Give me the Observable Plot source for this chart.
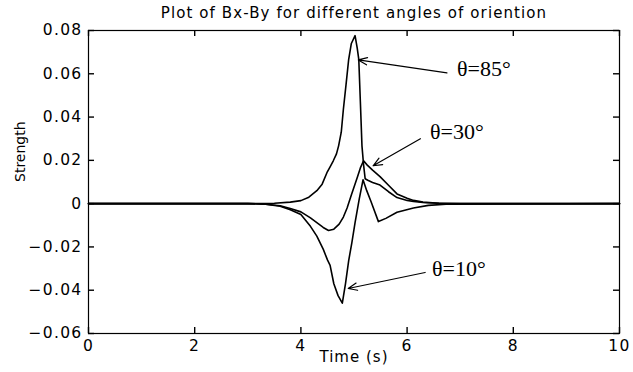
<!DOCTYPE html>
<html>
<head>
<meta charset="utf-8">
<script src="https://cdn.jsdelivr.net/npm/d3@7"></script>
<script src="https://cdn.jsdelivr.net/npm/@observablehq/plot@0.6"></script>
<style>
  html, body { margin: 0; padding: 0; background: #fff; }
  #chart svg { display: block; }
  #chart g[aria-label$="tick label"] text { letter-spacing: 1.3px; }
  #chart g.chart-title text { letter-spacing: 1.1px; }
  #chart g.axis-title text { letter-spacing: 1px; }
</style>
</head>
<body>
<div id="chart"></div>
<script>
// Bx-By response for three orientation angles (time in s, strength)
const t85 = [0, 3.0, 3.5, 3.8, 4.0, 4.15, 4.3, 4.4, 4.49, 4.55, 4.61, 4.67, 4.71, 4.76, 4.80, 4.85, 4.90, 4.95, 5.02, 5.06, 5.09, 5.12, 5.15, 5.18, 5.21, 5.26, 5.35, 5.49, 5.65, 5.81, 6.0, 6.12, 6.3, 6.6, 7.0, 10];
const v85 = [0, 0, 0.0002, 0.0007, 0.0014, 0.003, 0.006, 0.009, 0.0143, 0.017, 0.0198, 0.023, 0.0267, 0.033, 0.0436, 0.055, 0.0667, 0.074, 0.0776, 0.072, 0.0667, 0.047, 0.0267, 0.018, 0.0115, 0.0108, 0.0098, 0.0086, 0.0055, 0.0028, 0.0015, 0.001, 0.0005, 0.0002, 0, 0];

const t30 = [0, 3.0, 3.3, 3.61, 3.8, 4.0, 4.18, 4.3, 4.42, 4.52, 4.62, 4.72, 4.80, 4.87, 4.95, 5.06, 5.12, 5.18, 5.25, 5.35, 5.49, 5.65, 5.81, 6.0, 6.12, 6.3, 6.6, 7.0, 10];
const v30 = [0, 0, -0.0002, -0.001, -0.0022, -0.0038, -0.0066, -0.0088, -0.011, -0.0124, -0.0118, -0.0095, -0.0062, -0.002, 0.004, 0.012, 0.0165, 0.0198, 0.0178, 0.0155, 0.0125, 0.0085, 0.0045, 0.0025, 0.0015, 0.0007, 0.0002, 0, 0];

const t10 = [0, 3.0, 3.3, 3.61, 3.8, 4.0, 4.18, 4.3, 4.42, 4.5, 4.55, 4.62, 4.70, 4.78, 4.84, 4.90, 4.96, 5.02, 5.10, 5.17, 5.24, 5.32, 5.46, 5.6, 5.81, 6.12, 6.4, 6.8, 10];
const v10 = [0, 0, -0.0002, -0.0012, -0.0028, -0.005, -0.0105, -0.015, -0.021, -0.026, -0.0285, -0.037, -0.0425, -0.046, -0.037, -0.0263, -0.018, -0.0088, 0.0023, 0.011, 0.006, 0.001, -0.0083, -0.0068, -0.004, -0.002, -0.0008, -0.0002, 0];

const xTicks = [0, 2, 4, 6, 8, 10];
const yTicks = [-0.06, -0.04, -0.02, 0, 0.02, 0.04, 0.06, 0.08];

// Angle labels with the arrows pointing at each curve
const labels = ["θ=85°", "θ=30°", "θ=10°"];
const labelX = [6.94, 6.43, 6.47];
const labelY = [0.0622, 0.0332, -0.030];
const arrowFromX = [6.75, 6.25, 6.34];
const arrowFromY = [0.0604, 0.030, -0.0318];
const arrowToX = [5.08, 5.36, 4.89];
const arrowToY = [0.0664, 0.0175, -0.0392];

const title = "Plot of Bx-By for different angles of oriention";
const xLabel = "Time (s)";
const yLabel = "Strength";

const series = [
  ...t85.map((t, i) => ({angle: "85", t, v: v85[i]})),
  ...t30.map((t, i) => ({angle: "30", t, v: v30[i]})),
  ...t10.map((t, i) => ({angle: "10", t, v: v10[i]}))
];
const notes = labels.map((text, i) => ({
  text, x: labelX[i], y: labelY[i],
  x1: arrowFromX[i], y1: arrowFromY[i], x2: arrowToX[i], y2: arrowToY[i]
}));

// Frame geometry and domains
const W = 633, H = 372, mL = 88, mR = 14, mT = 30, mB = 39;
const xDomain = [0, 10], yDomain = [-0.06, 0.08];
const innerW = W - mL - mR, innerH = H - mT - mB, tickLen = 6;
// tick length expressed in each axis' data units
const xTickLen = tickLen / innerW * (xDomain[1] - xDomain[0]);
const yTickLen = tickLen / innerH * (yDomain[1] - yDomain[0]);

const sans = "DejaVu Sans, Liberation Sans, Arial, sans-serif";

const chart = Plot.plot({
  width: W,
  height: H,
  marginLeft: mL,
  marginRight: mR,
  marginTop: mT,
  marginBottom: mB,
  style: {fontFamily: sans, fontSize: "15px", color: "#000", background: "#fff"},
  x: {domain: xDomain},
  y: {domain: yDomain},
  marks: [
    Plot.frame({stroke: "#000", strokeWidth: 1.2}),
    Plot.axisX({ticks: xTicks, tickSize: 0, tickPadding: 6, tickFormat: d3.format("d"), label: null, fontSize: 15.5}),
    Plot.axisY({ticks: yTicks, tickSize: 0, tickPadding: 6, tickFormat: d => d === 0 ? "0" : d3.format(".2f")(d), label: null, fontSize: 15.5}),
    // inward ticks on all four sides
    Plot.ruleX(xTicks, {x: d => d, y1: yDomain[0], y2: yDomain[0] + yTickLen, stroke: "#000", strokeWidth: 1.4}),
    Plot.ruleX(xTicks, {x: d => d, y1: yDomain[1], y2: yDomain[1] - yTickLen, stroke: "#000", strokeWidth: 1.4}),
    Plot.ruleY(yTicks, {y: d => d, x1: xDomain[0], x2: xDomain[0] + xTickLen, stroke: "#000", strokeWidth: 1.4}),
    Plot.ruleY(yTicks, {y: d => d, x1: xDomain[1], x2: xDomain[1] - xTickLen, stroke: "#000", strokeWidth: 1.4}),
    Plot.line(series, {x: "t", y: "v", z: "angle", stroke: "#000", strokeWidth: 1.6, curve: "linear"}),
    Plot.arrow(notes, {x1: "x1", y1: "y1", x2: "x2", y2: "y2", stroke: "#000", strokeWidth: 1.2, headLength: 12, headAngle: 45}),
    Plot.text(notes, {x: "x", y: "y", text: "text", textAnchor: "start", fontFamily: "Liberation Serif, Times New Roman, serif", fontSize: 22, fill: "#000"}),
    Plot.text([title], {frameAnchor: "top", lineAnchor: "middle", dy: -17, fontSize: 15, fill: "#000", className: "chart-title"}),
    Plot.text([xLabel], {frameAnchor: "bottom", lineAnchor: "middle", dy: 24, fontSize: 15, fill: "#000", className: "axis-title"}),
    Plot.text([yLabel], {frameAnchor: "left", rotate: -90, dx: -68, dy: 0, fontSize: 14, fill: "#000"})
  ]
});
document.getElementById("chart").appendChild(chart);
</script>
</body>
</html>
